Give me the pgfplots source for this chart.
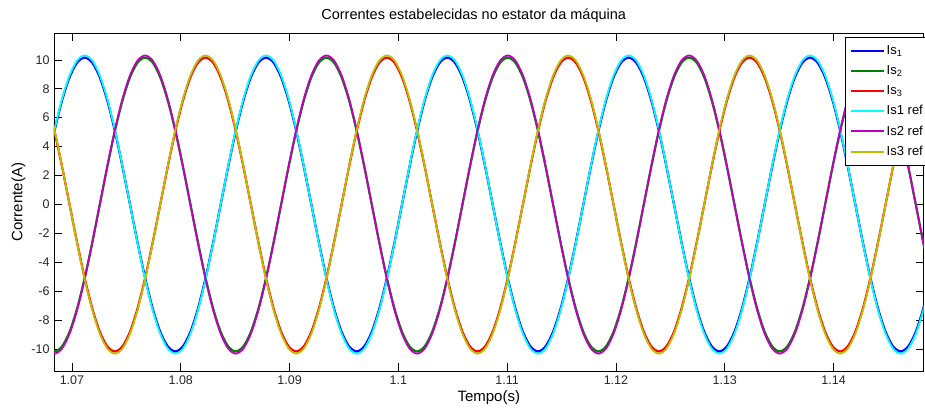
\documentclass[border=0pt]{standalone}
\usepackage{pgfplots}
\usepackage{pgfplotstable}
\pgfplotsset{compat=1.18}
\usepackage{fontspec}
\setmainfont{Liberation Sans}

\definecolor{sblue}{rgb}{0,0,1}
\definecolor{sgreen}{rgb}{0,0.5,0}
\definecolor{sred}{rgb}{1,0,0}
\definecolor{rcyan}{rgb}{0,1,1}
\definecolor{rmag}{rgb}{0.75,0,0.75}
\definecolor{ryel}{rgb}{0.75,0.75,0}

\pgfplotstableread{
t a b c ma mb mc
1.067698 2.666 -9.949 7.283 2.627 -9.804 7.177
1.068392 5.150 -10.3 5.150 5.075 -10.15 5.075
1.069087 7.283 -9.949 2.666 7.177 -9.804 2.627
1.069781 8.920 -8.920 0 8.790 -8.790 0
1.070476 9.949 -7.283 -2.666 9.804 -7.177 -2.627
1.071170 10.3 -5.150 -5.150 10.15 -5.075 -5.075
1.071865 9.949 -2.666 -7.283 9.804 -2.627 -7.177
1.072559 8.920 0 -8.920 8.790 0 -8.790
1.073254 7.283 2.666 -9.949 7.177 2.627 -9.804
1.073948 5.150 5.150 -10.3 5.075 5.075 -10.15
1.074642 2.666 7.283 -9.949 2.627 7.177 -9.804
1.075337 0 8.920 -8.920 0 8.790 -8.790
1.076031 -2.666 9.949 -7.283 -2.627 9.804 -7.177
1.076726 -5.150 10.3 -5.150 -5.075 10.15 -5.075
1.077420 -7.283 9.949 -2.666 -7.177 9.804 -2.627
1.078115 -8.920 8.920 0 -8.790 8.790 0
1.078809 -9.949 7.283 2.666 -9.804 7.177 2.627
1.079504 -10.3 5.150 5.150 -10.15 5.075 5.075
1.080198 -9.949 2.666 7.283 -9.804 2.627 7.177
1.080892 -8.920 0 8.920 -8.790 0 8.790
1.081587 -7.283 -2.666 9.949 -7.177 -2.627 9.804
1.082281 -5.150 -5.150 10.3 -5.075 -5.075 10.15
1.082976 -2.666 -7.283 9.949 -2.627 -7.177 9.804
1.083670 0 -8.920 8.920 0 -8.790 8.790
1.084365 2.666 -9.949 7.283 2.627 -9.804 7.177
1.085059 5.150 -10.3 5.150 5.075 -10.15 5.075
1.085754 7.283 -9.949 2.666 7.177 -9.804 2.627
1.086448 8.920 -8.920 0 8.790 -8.790 0
1.087143 9.949 -7.283 -2.666 9.804 -7.177 -2.627
1.087837 10.3 -5.150 -5.150 10.15 -5.075 -5.075
1.088532 9.949 -2.666 -7.283 9.804 -2.627 -7.177
1.089226 8.920 0 -8.920 8.790 0 -8.790
1.089921 7.283 2.666 -9.949 7.177 2.627 -9.804
1.090615 5.150 5.150 -10.3 5.075 5.075 -10.15
1.091309 2.666 7.283 -9.949 2.627 7.177 -9.804
1.092004 0 8.920 -8.920 0 8.790 -8.790
1.092698 -2.666 9.949 -7.283 -2.627 9.804 -7.177
1.093393 -5.150 10.3 -5.150 -5.075 10.15 -5.075
1.094087 -7.283 9.949 -2.666 -7.177 9.804 -2.627
1.094782 -8.920 8.920 0 -8.790 8.790 0
1.095476 -9.949 7.283 2.666 -9.804 7.177 2.627
1.096171 -10.3 5.150 5.150 -10.15 5.075 5.075
1.096865 -9.949 2.666 7.283 -9.804 2.627 7.177
1.097559 -8.920 0 8.920 -8.790 0 8.790
1.098254 -7.283 -2.666 9.949 -7.177 -2.627 9.804
1.098948 -5.150 -5.150 10.3 -5.075 -5.075 10.15
1.099643 -2.666 -7.283 9.949 -2.627 -7.177 9.804
1.100337 0 -8.920 8.920 0 -8.790 8.790
1.101031 2.666 -9.949 7.283 2.627 -9.804 7.177
1.101725 5.150 -10.3 5.150 5.075 -10.15 5.075
1.102420 7.283 -9.949 2.666 7.177 -9.804 2.627
1.103114 8.920 -8.920 0 8.790 -8.790 0
1.103809 9.949 -7.283 -2.666 9.804 -7.177 -2.627
1.104503 10.3 -5.150 -5.150 10.15 -5.075 -5.075
1.105198 9.949 -2.666 -7.283 9.804 -2.627 -7.177
1.105892 8.920 0 -8.920 8.790 0 -8.790
1.106587 7.283 2.666 -9.949 7.177 2.627 -9.804
1.107281 5.150 5.150 -10.3 5.075 5.075 -10.15
1.107975 2.666 7.283 -9.949 2.627 7.177 -9.804
1.108670 0 8.920 -8.920 0 8.790 -8.790
1.109364 -2.666 9.949 -7.283 -2.627 9.804 -7.177
1.110059 -5.150 10.3 -5.150 -5.075 10.15 -5.075
1.110753 -7.283 9.949 -2.666 -7.177 9.804 -2.627
1.111448 -8.920 8.920 0 -8.790 8.790 0
1.112142 -9.949 7.283 2.666 -9.804 7.177 2.627
1.112837 -10.3 5.150 5.150 -10.15 5.075 5.075
1.113531 -9.949 2.666 7.283 -9.804 2.627 7.177
1.114225 -8.920 0 8.920 -8.790 0 8.790
1.114920 -7.283 -2.666 9.949 -7.177 -2.627 9.804
1.115614 -5.150 -5.150 10.3 -5.075 -5.075 10.15
1.116309 -2.666 -7.283 9.949 -2.627 -7.177 9.804
1.117003 0 -8.920 8.920 0 -8.790 8.790
1.117698 2.666 -9.949 7.283 2.627 -9.804 7.177
1.118392 5.150 -10.3 5.150 5.075 -10.15 5.075
1.119087 7.283 -9.949 2.666 7.177 -9.804 2.627
1.119781 8.920 -8.920 0 8.790 -8.790 0
1.120476 9.949 -7.283 -2.666 9.804 -7.177 -2.627
1.121170 10.3 -5.150 -5.150 10.15 -5.075 -5.075
1.121865 9.949 -2.666 -7.283 9.804 -2.627 -7.177
1.122559 8.920 0 -8.920 8.790 0 -8.790
1.123254 7.283 2.666 -9.949 7.177 2.627 -9.804
1.123948 5.150 5.150 -10.3 5.075 5.075 -10.15
1.124642 2.666 7.283 -9.949 2.627 7.177 -9.804
1.125337 0 8.920 -8.920 0 8.790 -8.790
1.126031 -2.666 9.949 -7.283 -2.627 9.804 -7.177
1.126726 -5.150 10.3 -5.150 -5.075 10.15 -5.075
1.127420 -7.283 9.949 -2.666 -7.177 9.804 -2.627
1.128115 -8.920 8.920 0 -8.790 8.790 0
1.128809 -9.949 7.283 2.666 -9.804 7.177 2.627
1.129504 -10.3 5.150 5.150 -10.15 5.075 5.075
1.130198 -9.949 2.666 7.283 -9.804 2.627 7.177
1.130892 -8.920 0 8.920 -8.790 0 8.790
1.131587 -7.283 -2.666 9.949 -7.177 -2.627 9.804
1.132281 -5.150 -5.150 10.3 -5.075 -5.075 10.15
1.132976 -2.666 -7.283 9.949 -2.627 -7.177 9.804
1.133670 0 -8.920 8.920 0 -8.790 8.790
1.134365 2.666 -9.949 7.283 2.627 -9.804 7.177
1.135059 5.150 -10.3 5.150 5.075 -10.15 5.075
1.135754 7.283 -9.949 2.666 7.177 -9.804 2.627
1.136448 8.920 -8.920 0 8.790 -8.790 0
1.137143 9.949 -7.283 -2.666 9.804 -7.177 -2.627
1.137837 10.3 -5.150 -5.150 10.15 -5.075 -5.075
1.138532 9.949 -2.666 -7.283 9.804 -2.627 -7.177
1.139226 8.920 0 -8.920 8.790 0 -8.790
1.139921 7.283 2.666 -9.949 7.177 2.627 -9.804
1.140615 5.150 5.150 -10.3 5.075 5.075 -10.15
1.141309 2.666 7.283 -9.949 2.627 7.177 -9.804
1.142004 0 8.920 -8.920 0 8.790 -8.790
1.142698 -2.666 9.949 -7.283 -2.627 9.804 -7.177
1.143393 -5.150 10.3 -5.150 -5.075 10.15 -5.075
1.144087 -7.283 9.949 -2.666 -7.177 9.804 -2.627
1.144782 -8.920 8.920 0 -8.790 8.790 0
1.145476 -9.949 7.283 2.666 -9.804 7.177 2.627
1.146171 -10.3 5.150 5.150 -10.15 5.075 5.075
1.146865 -9.949 2.666 7.283 -9.804 2.627 7.177
1.147559 -8.920 0 8.920 -8.790 0 8.790
1.148254 -7.283 -2.666 9.949 -7.177 -2.627 9.804
1.148948 -5.150 -5.150 10.3 -5.075 -5.075 10.15
}\data

\begin{document}
\begin{tikzpicture}
\begin{axis}[
  scale only axis,
  at={(0pt,0pt)}, anchor=south west,
  width=869.5pt, height=338pt,
  xmin=1.06835, xmax=1.14827,
  ymin=-11.5, ymax=11.85,
  xtick={1.07,1.08,1.09,1.1,1.11,1.12,1.13,1.14},
  xticklabels={1.07,1.08,1.09,1.1,1.11,1.12,1.13,1.14},
  ytick={-10,-8,-6,-4,-2,0,2,4,6,8,10},
  yticklabels={-10,-8,-6,-4,-2,0,2,4,6,8,10},
  tick align=inside,
  major tick length=8pt,
  tick style={black, line width=0.5pt},
  axis line style={black, line width=0.5pt},
  ticklabel style={font=\fontsize{12.5}{14}\selectfont, text=black!85},
  xticklabel style={yshift=-1pt},
  yticklabel style={xshift=-1pt},
  title={Correntes estabelecidas no estator da máquina},
  every axis title/.style={at={(axis description cs:0.4827,1)}, yshift=17pt, anchor=center, font=\fontsize{14.5}{16}\selectfont},
  xlabel={Tempo(s)},
  ylabel={Corrente(A)},
  every axis x label/.style={at={(axis description cs:0.5,0)}, yshift=-27pt, anchor=center, font=\fontsize{15}{17}\selectfont},
  every axis y label/.style={at={(axis description cs:0,0.5)}, xshift=-35.5pt, rotate=90, anchor=center, font=\fontsize{15}{17}\selectfont},
  legend image code/.code={\draw[#1, line width=2pt] (0pt,0pt) -- (33pt,0pt);},
  legend cell align=left,
  legend style={at={(rel axis cs:0.9097,0.987)}, anchor=north west, draw=black, line width=0.5pt,
    font=\fontsize{13}{15}\selectfont, inner xsep=5pt, inner ysep=6.5pt, row sep=6.5pt,
    nodes={inner sep=1.5pt}},
]
\addplot[sblue, line width=2.2pt, smooth] table[x=t, y=ma] {\data};
\addplot[sgreen, line width=2.2pt, smooth] table[x=t, y=mb] {\data};
\addplot[sred, line width=2.2pt, smooth] table[x=t, y=mc] {\data};
\addplot[rcyan, line width=1.8pt, smooth] table[x=t, y=a] {\data};
\addplot[rmag, line width=1.8pt, smooth] table[x=t, y=b] {\data};
\addplot[ryel, line width=1.8pt, smooth] table[x=t, y=c] {\data};
\legend{Is\textsubscript{1},Is\textsubscript{2},Is\textsubscript{3},Is1 ref,Is2 ref,Is3 ref}
\end{axis}
\pgfresetboundingbox
\path (-54pt,-39pt) rectangle (871pt,371pt);
\end{tikzpicture}
\end{document}
